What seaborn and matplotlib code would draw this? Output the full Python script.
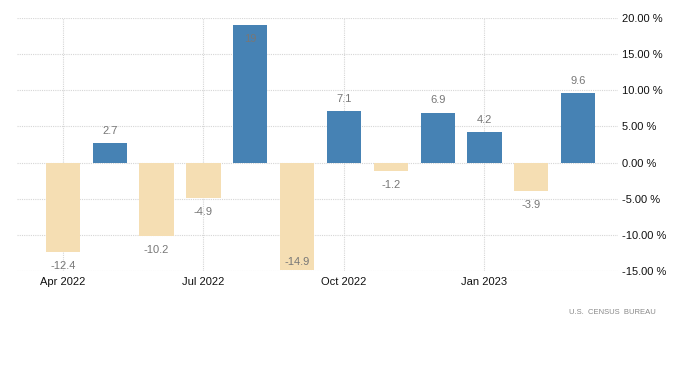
import matplotlib
matplotlib.use("Agg")
import matplotlib.pyplot as plt
import seaborn as sns
import pandas as pd
import numpy as np

months = ["Apr 2022", "May 2022", "Jun 2022", "Jul 2022", "Aug 2022", "Sep 2022",
          "Oct 2022", "Nov 2022", "Dec 2022", "Jan 2023", "Feb 2023", "Mar 2023"]
values = [-12.4, 2.7, -10.2, -4.9, 19, -14.9, 7.1, -1.2, 6.9, 4.2, -3.9, 9.6]
value_labels = ["-12.4", "2.7", "-10.2", "-4.9", "19", "-14.9", "7.1", "-1.2", "6.9", "4.2", "-3.9", "9.6"]
shown_ticks = ["Apr 2022", "Jul 2022", "Oct 2022", "Jan 2023"]
yticks = [-15, -10, -5, 0, 5, 10, 15, 20]
source = "U.S.  CENSUS  BUREAU"

sns.set_theme(style="white")
plt.rcParams['font.family'] = ['Liberation Sans', 'DejaVu Sans']

df = pd.DataFrame({"month": months, "value": values,
                   "sign": ["pos" if v >= 0 else "neg" for v in values]})

fig = plt.figure(figsize=(7, 3.67), dpi=100)
ax = fig.add_axes([17/700, 1 - 271/367, 601/700, 253/367])

sns.barplot(data=df, x="month", y="value", hue="sign",
            palette={"pos": "#4682B4", "neg": "#F5DEB3"},
            dodge=False, width=0.73, legend=False, ax=ax, saturation=1,
            linewidth=0, edgecolor="none")

ylo, yhi = -15, 20
ax.set_ylim(ylo, yhi)
ax.set_xlim(-0.98, 11.85)

ax.yaxis.tick_right()
ax.set_yticks(yticks)
ax.set_yticklabels([f"{t:.2f} %" for t in yticks])
tick_pos = [months.index(m) for m in shown_ticks]
ax.set_xticks(tick_pos)
ax.set_xticklabels(shown_ticks)
ax.tick_params(axis="both", length=0, labelsize=8, colors="#111111")
ax.tick_params(axis="y", pad=3)
ax.tick_params(axis="x", pad=4)
ax.set_xlabel("")
ax.set_ylabel("")

ax.grid(True, which="major", axis="both", color="#d6d6d6", linestyle=(0, (1, 1)), linewidth=0.8)
ax.set_axisbelow(True)
for s in ax.spines.values():
    s.set_visible(False)

for i, (v, lab) in enumerate(zip(values, value_labels)):
    if v >= 0:
        if v > yhi - 2:
            off = -10
        else:
            off = 9
    else:
        if v < ylo + 2:
            off = 6
        else:
            off = -10
    ax.annotate(lab, (i, v), xytext=(0, off), textcoords="offset points",
                ha="center", va="center", fontsize=8, color="#777777")

fig.text(656/700, 1 - 312/367, source, ha="right", va="center", fontsize=5.5, color="#888888")

fig.savefig("out.png", dpi=100)
